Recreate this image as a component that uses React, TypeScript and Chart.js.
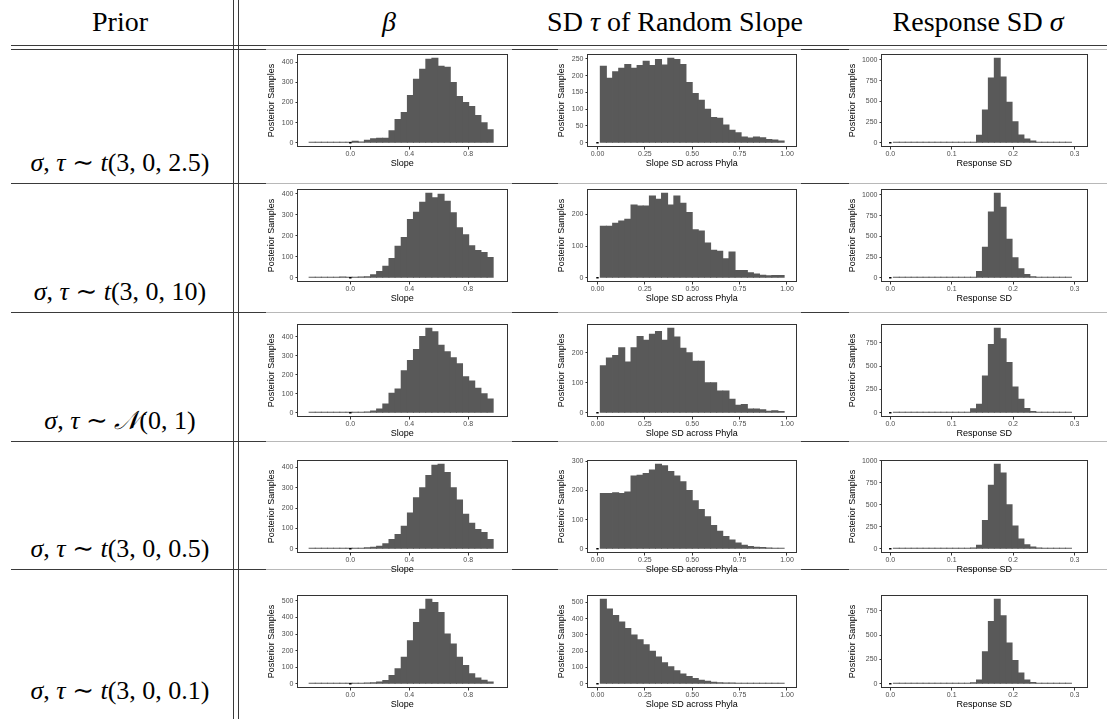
import React, { useEffect, useRef } from "react";
import { Chart, registerables } from "chart.js";
Chart.register(...registerables);

// ---------- data ----------
// bin centres of the three histogram columns
const slopeBins = [-0.259, -0.217, -0.176, -0.134, -0.092, -0.051, -0.009, 0.033, 0.074, 0.116, 0.158, 0.199, 0.241, 0.283, 0.324, 0.366, 0.408, 0.449, 0.491, 0.533, 0.574, 0.616, 0.658, 0.699, 0.741, 0.783, 0.824, 0.866, 0.908, 0.949];
const sdBins = [0.031, 0.063, 0.096, 0.128, 0.16, 0.193, 0.225, 0.257, 0.29, 0.322, 0.354, 0.387, 0.419, 0.451, 0.484, 0.516, 0.548, 0.581, 0.613, 0.645, 0.678, 0.71, 0.742, 0.775, 0.807, 0.839, 0.872, 0.904, 0.936, 0.969];
const respBins = [0.0098, 0.0195, 0.0292, 0.0388, 0.0485, 0.0582, 0.0678, 0.0775, 0.0872, 0.0968, 0.1065, 0.1162, 0.1258, 0.1355, 0.1452, 0.1548, 0.1645, 0.1742, 0.1838, 0.1935, 0.2032, 0.2128, 0.2225, 0.2322, 0.2418, 0.2515, 0.2612, 0.2708, 0.2805, 0.2902];

// posterior sample counts (slope)
const slopeT25 = [1, 1, 2, 1, 1, 2, 3, 8, 4, 12, 20, 22, 22, 60, 115, 150, 235, 315, 365, 415, 420, 380, 375, 300, 230, 200, 180, 135, 100, 65];
const slopeT10 = [2, 1, 2, 3, 1, 4, 3, 3, 4, 5, 15, 30, 55, 92, 150, 192, 278, 312, 360, 403, 382, 398, 365, 310, 238, 205, 153, 130, 120, 97];
const slopeN01 = [1, 1, 1, 2, 1, 2, 3, 2, 3, 4, 9, 20, 46, 103, 126, 222, 276, 334, 402, 446, 427, 356, 322, 290, 258, 190, 168, 130, 100, 72];
const slopeT05 = [1, 1, 2, 1, 2, 2, 3, 2, 3, 5, 8, 12, 25, 45, 70, 110, 175, 250, 300, 360, 410, 415, 375, 300, 240, 170, 125, 95, 80, 45];
const slopeT01 = [1, 1, 1, 2, 1, 2, 3, 2, 3, 4, 6, 10, 20, 50, 90, 160, 260, 370, 450, 510, 490, 430, 300, 240, 160, 110, 60, 35, 22, 10];

// posterior sample counts (SD of random slope)
const sdT25 = [228, 192, 212, 222, 233, 222, 230, 243, 230, 248, 232, 252, 248, 233, 180, 147, 127, 100, 75, 73, 53, 37, 30, 17, 14, 17, 15, 10, 8, 5];
const sdT10 = [163, 163, 172, 179, 185, 230, 227, 227, 258, 248, 267, 230, 258, 235, 206, 152, 148, 110, 87, 84, 60, 81, 23, 23, 16, 12, 8, 6, 7, 7];
const sdN01 = [157, 183, 191, 217, 169, 217, 254, 242, 262, 271, 242, 282, 253, 215, 200, 172, 172, 100, 100, 73, 73, 45, 25, 28, 13, 13, 10, 5, 7, 4];
const sdT05 = [190, 190, 192, 190, 195, 250, 252, 258, 270, 290, 285, 265, 250, 230, 200, 165, 135, 110, 80, 60, 42, 30, 20, 12, 8, 5, 4, 3, 2, 1];
const sdT01 = [520, 460, 420, 380, 340, 300, 270, 240, 200, 165, 130, 105, 80, 60, 45, 32, 22, 15, 10, 7, 5, 4, 3, 2, 2, 1, 1, 1, 1, 1];

// posterior sample counts (response SD)
const respT25 = [1, 1, 1, 1, 1, 1, 1, 1, 1, 1, 1, 1, 1, 1, 90, 395, 780, 1020, 795, 490, 253, 95, 45, 20, 5, 2, 1, 1, 1, 1];
const respT10 = [1, 1, 1, 1, 1, 1, 1, 1, 1, 1, 1, 1, 1, 1, 77, 367, 793, 1020, 850, 465, 243, 110, 40, 12, 4, 2, 1, 1, 1, 1];
const respN01 = [1, 1, 1, 1, 1, 1, 1, 1, 1, 1, 1, 1, 1, 43, 90, 395, 732, 906, 793, 540, 275, 145, 47, 14, 4, 2, 1, 1, 1, 1];
const respT05 = [1, 1, 1, 1, 1, 1, 1, 1, 1, 1, 1, 1, 2, 8, 40, 320, 720, 960, 860, 500, 260, 110, 45, 20, 8, 3, 2, 1, 1, 1];
const respT01 = [1, 1, 1, 1, 1, 1, 1, 1, 1, 1, 1, 1, 2, 10, 40, 330, 640, 870, 700, 420, 240, 110, 40, 12, 4, 2, 1, 1, 1, 1];

// reference mark at zero
const zeroMarkX = [0];

// tick values
const slopeTicks = [0, 0.4, 0.8];
const sdTicks = [0, 0.25, 0.5, 0.75, 1];
const respTicks = [0, 0.1, 0.2, 0.3];
const yTicks200 = [0, 100, 200];
const yTicks250 = [0, 50, 100, 150, 200, 250];
const yTicks300 = [0, 100, 200, 300];
const yTicks400 = [0, 100, 200, 300, 400];
const yTicks500 = [0, 100, 200, 300, 400, 500];
const yTicks750 = [0, 250, 500, 750];
const yTicks1000 = [0, 250, 500, 750, 1000];

// row labels
const priorFamilies = ["t", "t", "N", "t", "t"];
const priorArgs = ["3, 0, 2.5", "3, 0, 10", "0, 1", "3, 0, 0.5", "3, 0, 0.1"];

const slopeRows = [slopeT25, slopeT10, slopeN01, slopeT05, slopeT01];
const sdRows = [sdT25, sdT10, sdN01, sdT05, sdT01];
const respRows = [respT25, respT10, respN01, respT05, respT01];
const slopeYTicks = [yTicks400, yTicks400, yTicks400, yTicks400, yTicks500];
const sdYTicks = [yTicks250, yTicks200, yTicks200, yTicks300, yTicks500];
const respYTicks = [yTicks1000, yTicks1000, yTicks750, yTicks1000, yTicks750];

// ---------- layout ----------
const FRAME_TOPS = [54, 189, 324, 460, 595];
const PAD_TOP = 7;
const AREA_H = 93;
const X_AXIS_H = 22;
const PANEL_H = PAD_TOP + AREA_H + X_AXIS_H;
const COLS = [
  { left: 266, width: 246, yW: 32, xMin: -0.355, xMax: 1.06, bins: slopeBins, xTicks: slopeTicks, digits: 1, title: "Slope" },
  { left: 556, width: 245, yW: 32, xMin: -0.05, xMax: 1.045, bins: sdBins, xTicks: sdTicks, digits: 2, title: "Slope SD across Phyla" },
  { left: 847, width: 245, yW: 35, xMin: -0.0135, xMax: 0.3195, bins: respBins, xTicks: respTicks, digits: 1, title: "Response SD" },
];
const ROW_LINES = [183, 312, 441, 569];
const LIGHT_SPANS = [[266, 512], [558, 801], [849, 1107]];
const SANS = "'Liberation Sans', Arial, Helvetica, sans-serif";
const SERIF = "'Liberation Serif', 'Times New Roman', 'DejaVu Serif', serif";

const framePlugin = {
  id: "frame",
  afterDatasetsDraw(chart: any) {
    const { ctx, chartArea: a } = chart;
    ctx.save();
    ctx.strokeStyle = "#333333";
    ctx.lineWidth = 1;
    const x0 = Math.round(a.left) - 0.5;
    const y0 = Math.round(a.top) + 0.5;
    const x1 = Math.round(a.right) + 0.5;
    const y1 = Math.round(a.bottom) - 0.5;
    ctx.strokeRect(x0, y0, x1 - x0, y1 - y0);
    ctx.restore();
  },
};

function Panel(props: any) {
  const { col, counts, yTicks, top } = props;
  const ref = useRef<HTMLCanvasElement>(null);
  useEffect(() => {
    const peak = Math.max(...counts);
    const tickFont = { family: SANS, size: 7 };
    const titleFont = { family: SANS, size: 9 };
    const chart = new Chart(ref.current as HTMLCanvasElement, {
      type: "bar",
      data: {
        datasets: [
          {
            type: "scatter",
            data: zeroMarkX.map((x) => ({ x, y: 0 })),
            pointStyle: "line",
            radius: 1.2,
            borderColor: "#000000",
            borderWidth: 1.5,
            order: 0,
          } as any,
          {
            type: "bar",
            data: col.bins.map((x: number, i: number) => ({ x, y: counts[i] })),
            backgroundColor: "#595959",
            borderWidth: 0,
            barPercentage: 1,
            categoryPercentage: 1,
            inflateAmount: 0.5,
            minBarLength: 0.6,
            order: 1,
          } as any,
        ],
      },
      options: {
        responsive: false,
        animation: false,
        devicePixelRatio: 1,
        layout: { padding: { top: PAD_TOP, right: 3, left: 0, bottom: 0 } },
        plugins: { legend: { display: false }, tooltip: { enabled: false } },
        scales: {
          x: {
            type: "linear",
            min: col.xMin,
            max: col.xMax,
            offset: false,
            border: { display: false },
            grid: { display: true, drawOnChartArea: false, drawTicks: true, tickLength: 2.5, color: "#333333", offset: false },
            ticks: {
              padding: 0,
              font: tickFont,
              color: "#4d4d4d",
              maxRotation: 0,
              autoSkip: false,
              callback: (v: any) => Number(v).toFixed(col.digits),
            },
            title: { display: true, text: col.title, color: "#000000", font: titleFont, padding: 0 },
            afterBuildTicks: (s: any) => {
              s.ticks = col.xTicks.map((v: number) => ({ value: v }));
            },
            afterFit: (s: any) => {
              s.height = X_AXIS_H;
            },
          },
          y: {
            type: "linear",
            min: -0.05 * peak,
            max: 1.05 * peak,
            border: { display: false },
            grid: { display: true, drawOnChartArea: false, drawTicks: true, tickLength: 2.5, color: "#333333" },
            ticks: {
              padding: 2,
              font: tickFont,
              color: "#4d4d4d",
              autoSkip: false,
              callback: (v: any) => String(Math.round(Number(v))),
            },
            title: { display: true, text: "Posterior Samples", color: "#000000", font: titleFont, padding: 0 },
            afterBuildTicks: (s: any) => {
              s.ticks = yTicks.map((v: number) => ({ value: v }));
            },
            afterFit: (s: any) => {
              s.width = col.yW;
            },
          },
        },
      } as any,
      plugins: [framePlugin],
    });
    return () => chart.destroy();
  }, []);
  return (
    <canvas
      ref={ref}
      width={col.width}
      height={PANEL_H}
      style={{ position: "absolute", left: col.left, top, width: col.width, height: PANEL_H }}
    />
  );
}

function PriorLabel({ fam, args }: { fam: string; args: string }) {
  return (
    <span>
      <i>σ</i>, <i>τ</i> ∼ {fam === "N" ? <i>𝒩</i> : <i>t</i>}({args})
    </span>
  );
}

function HLine({ y, x0, x1, color }: any) {
  return <div style={{ position: "absolute", left: x0, top: y, width: x1 - x0, height: 1, background: color }} />;
}

export default function App() {
  const labelTops = [148, 277, 406, 534, 676];
  const lines: any[] = [];
  const dark = "#3a3a3a";
  const light = "#b8b8b8";
  lines.push(<HLine key="h0" y={45} x0={11} x1={1107} color={dark} />);
  lines.push(<HLine key="h1" y={49} x0={11} x1={1107} color={dark} />);
  LIGHT_SPANS.forEach(([a, b], i) => lines.push(<HLine key={"hl" + i} y={49} x0={a} x1={b} color={light} />));
  ROW_LINES.forEach((y, r) => {
    lines.push(<HLine key={"r" + r} y={y} x0={11} x1={1107} color={dark} />);
    LIGHT_SPANS.forEach(([a, b], i) => lines.push(<HLine key={"rl" + r + "_" + i} y={y} x0={a} x1={b} color={light} />));
  });
  return (
    <div style={{ position: "absolute", left: 0, top: 0, width: 1107, height: 719, background: "#ffffff", overflow: "hidden", fontFamily: SERIF, color: "#000" }}>
      {lines}
      <div style={{ position: "absolute", left: 233, top: 0, width: 1, height: 719, background: dark }} />
      <div style={{ position: "absolute", left: 238, top: 0, width: 1, height: 719, background: dark }} />
      {/* header */}
      {[
        { cx: 120, node: <span>Prior</span> },
        { cx: 389, node: <i>β</i> },
        { cx: 675, node: <span>SD <i>τ</i> of Random Slope</span> },
        { cx: 978, node: <span>Response SD <i>σ</i></span> },
      ].map((h, i) => (
        <div key={"hd" + i} style={{ position: "absolute", left: h.cx - 200, width: 400, top: 5, height: 34, lineHeight: "34px", fontSize: 28, textAlign: "center", whiteSpace: "nowrap" }}>
          {h.node}
        </div>
      ))}
      {priorFamilies.map((fam, r) => (
        <div key={"pl" + r} style={{ position: "absolute", left: 0, width: 240, top: labelTops[r], height: 30, lineHeight: "30px", fontSize: 26, textAlign: "center", whiteSpace: "nowrap" }}>
          <PriorLabel fam={fam} args={priorArgs[r]} />
        </div>
      ))}
      {FRAME_TOPS.map((ft, r) => (
        <React.Fragment key={"row" + r}>
          <Panel col={COLS[0]} counts={slopeRows[r]} yTicks={slopeYTicks[r]} top={ft - PAD_TOP} />
          <Panel col={COLS[1]} counts={sdRows[r]} yTicks={sdYTicks[r]} top={ft - PAD_TOP} />
          <Panel col={COLS[2]} counts={respRows[r]} yTicks={respYTicks[r]} top={ft - PAD_TOP} />
        </React.Fragment>
      ))}
    </div>
  );
}
